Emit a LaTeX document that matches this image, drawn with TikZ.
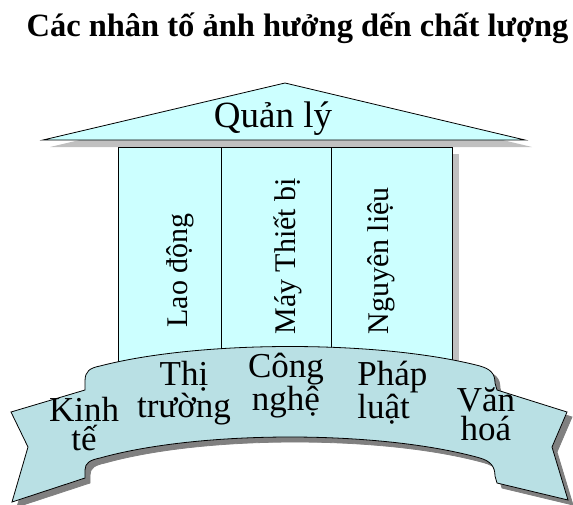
\documentclass[tikz,border=0pt]{standalone}
\usepackage{fontspec}
\setmainfont{Liberation Serif}

\definecolor{pillar}{RGB}{204,255,255}
\definecolor{ribbon}{RGB}{185,224,228}
\definecolor{softshade}{RGB}{192,192,192}
\definecolor{darkshade}{RGB}{128,128,128}

% the banner outline, drawn once as shadow and once on top
\newcommand\ribbonshape[1]{%
  \filldraw[#1] (11,412) -- (85,390) -- (85,381)
    .. controls (85,371) and (90,368) .. (100,366)
    .. controls (200,340) and (380,340) .. (480,366)
    .. controls (490,369) and (495,373) .. (495,383)
    -- (497,390) -- (567,412) -- (552,447) -- (568,500) -- (497,483) -- (495,476)
    .. controls (495,466) and (490,461) .. (480,458)
    .. controls (380,430) and (200,430) .. (100,458)
    .. controls (90,460) and (85,463) .. (85,470)
    -- (85,478) -- (12,502) -- (28,447) -- cycle;}

\begin{document}
\begin{tikzpicture}[x=1pt, y=-1pt, line width=0.8pt,
    pillartext/.style={rotate=90, anchor=base west, inner sep=0pt, font=\fontsize{30}{30}\selectfont},
    ribbontext/.style={anchor=base, inner sep=0pt, align=center, font=\fontsize{35}{29}\selectfont}]

  \useasboundingbox (0,0) rectangle (573,504);

  \node[anchor=base, inner sep=0pt, font=\bfseries\fontsize{32.5}{32.5}\selectfont] (title) at (297.5,36) {Các nhân tố ảnh hưởng dến chất lượng};

  % shadows of roof and pillars
  \fill[softshade] (50,147) -- (292,90) -- (532,147) -- cycle;
  \fill[softshade] (125,154) rectangle (459,400);

  % pillars
  \filldraw[fill=pillar] (118,147) rectangle (452,400);
  \draw (221,147) -- (221,400);
  \draw (331,147) -- (331,400);
  \node[pillartext] (labor) at (187,328) {Lao động};
  \node[pillartext] (machine) at (295,335) {Máy Thiết bị};
  \node[pillartext] (material) at (388,335) {Nguyên liệu};

  % roof
  \filldraw[fill=pillar] (43,140) -- (285,83) -- (525,140) -- cycle;
  \node[anchor=base, inner sep=0pt, font=\fontsize{37}{37}\selectfont] (manage) at (273,127) {Quản lý};

  % banner
  \ribbonshape{darkshade, shift={(5,5)}}
  \ribbonshape{fill=ribbon, draw=black}

  % base anchor sits on the lower line
  \node[ribbontext] (econ) at (84,450) {Kinh\\tế};
  \node[ribbontext] (market) at (184,417) {Thị\\trường};
  \node[ribbontext] (tech) at (286,410) {Công\\nghệ};
  \node[ribbontext, anchor=base west, align=left] (law) at (357,418) {Pháp\\luật};
  \node[ribbontext] (culture) at (486,440) {Văn\\hoá};
\end{tikzpicture}
\end{document}
